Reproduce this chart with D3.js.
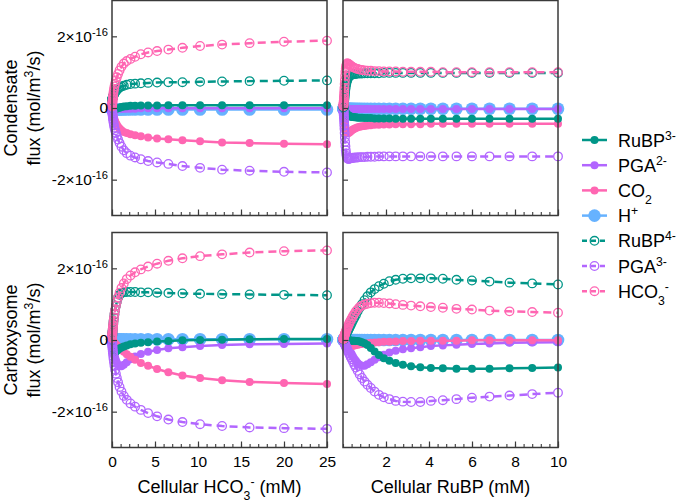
<!DOCTYPE html>
<html><head><meta charset="utf-8">
<script src="https://cdn.jsdelivr.net/npm/d3@7"></script>
<style>body{margin:0;background:#fff;} svg text{font-family:"Liberation Sans",Arial,sans-serif;fill:#000;}</style>
</head><body><svg id="c" width="677" height="502"></svg>
<script>
// ---------- DATA (flux in units of 1e-16 mol/m3/s) ----------
const xHCO3 = [0.0127,0.0158,0.0198,0.0248,0.031,0.0387,0.0484,0.0604,0.0756,0.0944,0.118,0.148,0.184,0.231,0.288,0.36,0.45,0.563,0.704,0.88,1.1,1.374,1.718,2.147,2.684,3.355,4.194,5.243,6.554,8.192,10.24,12.8,16,20,25];
const xRuBP = [0.0167,0.019,0.0216,0.0246,0.028,0.0318,0.0361,0.041,0.0466,0.053,0.0602,0.068,0.078,0.088,0.1,0.114,0.13,0.147,0.167,0.19,0.216,0.246,0.279,0.317,0.36,0.409,0.465,0.529,0.601,0.683,0.776,0.881,1.002,1.138,1.293,1.47,1.67,1.898,2.157,2.451,2.785,3.165,3.596,4.087,4.644,5.277,5.997,6.815,7.744,8.8,10];

// Condensate vs cellular HCO3-
const condL_RuBP3 = [-0.16,-0.16,-0.15,-0.15,-0.14,-0.14,-0.13,-0.12,-0.11,-0.1,-0.09,-0.08,-0.07,-0.06,-0.05,-0.04,-0.03,-0.01,0,0.01,0.03,0.04,0.05,0.06,0.06,0.07,0.07,0.07,0.08,0.08,0.08,0.08,0.08,0.08,0.08];
const condL_PGA2 = [-0.05,-0.05,-0.05,-0.05,-0.05,-0.05,-0.04,-0.04,-0.04,-0.04,-0.04,-0.03,-0.03,-0.03,-0.03,-0.03,-0.03,-0.02,-0.02,-0.02,-0.02,-0.02,-0.02,-0.02,-0.02,-0.01,-0.01,-0.01,-0.01,-0.01,-0.01,-0.01,-0.01,-0.01,-0.01];
const condL_CO2 = [-0.03,-0.03,-0.04,-0.05,-0.06,-0.07,-0.09,-0.1,-0.12,-0.15,-0.17,-0.2,-0.24,-0.28,-0.32,-0.37,-0.42,-0.47,-0.52,-0.57,-0.62,-0.67,-0.7,-0.73,-0.76,-0.79,-0.82,-0.85,-0.87,-0.9,-0.93,-0.96,-0.98,-1.0,-1.01];
const condL_H = [-0.04,-0.04,-0.04,-0.04,-0.04,-0.04,-0.04,-0.04,-0.04,-0.04,-0.04,-0.04,-0.04,-0.04,-0.04,-0.04,-0.04,-0.04,-0.04,-0.04,-0.04,-0.04,-0.04,-0.04,-0.04,-0.04,-0.04,-0.04,-0.04,-0.04,-0.04,-0.04,-0.04,-0.04,-0.04];
const condL_RuBP4 = [0.22,0.22,0.23,0.23,0.24,0.25,0.26,0.27,0.29,0.3,0.32,0.34,0.36,0.38,0.41,0.44,0.47,0.5,0.54,0.57,0.6,0.62,0.65,0.67,0.68,0.69,0.7,0.71,0.72,0.72,0.73,0.74,0.75,0.76,0.77];
const condL_PGA3 = [-0.04,-0.05,-0.06,-0.08,-0.1,-0.12,-0.14,-0.17,-0.21,-0.25,-0.3,-0.35,-0.41,-0.48,-0.55,-0.62,-0.7,-0.79,-0.88,-0.98,-1.08,-1.18,-1.26,-1.33,-1.38,-1.43,-1.48,-1.52,-1.56,-1.62,-1.67,-1.72,-1.75,-1.78,-1.8];
const condL_HCO3 = [0.05,0.06,0.07,0.09,0.11,0.13,0.16,0.19,0.23,0.27,0.32,0.38,0.45,0.52,0.6,0.68,0.77,0.86,0.95,1.05,1.15,1.24,1.31,1.37,1.43,1.5,1.55,1.59,1.63,1.68,1.73,1.77,1.81,1.85,1.88];

// Carboxysome vs cellular HCO3-
const carbL_RuBP3 = [-0.03,-0.04,-0.05,-0.06,-0.08,-0.1,-0.12,-0.15,-0.18,-0.21,-0.24,-0.27,-0.3,-0.32,-0.33,-0.33,-0.32,-0.3,-0.27,-0.24,-0.21,-0.18,-0.15,-0.12,-0.1,-0.08,-0.06,-0.04,-0.03,-0.01,0,0.01,0.02,0.03,0.03];
const carbL_PGA2 = [-0.02,-0.03,-0.03,-0.04,-0.05,-0.06,-0.08,-0.1,-0.12,-0.15,-0.19,-0.23,-0.28,-0.34,-0.41,-0.48,-0.56,-0.63,-0.69,-0.73,-0.73,-0.69,-0.62,-0.54,-0.46,-0.39,-0.33,-0.28,-0.23,-0.2,-0.17,-0.14,-0.12,-0.11,-0.1];
const carbL_CO2 = [-0.01,-0.01,-0.01,-0.01,-0.02,-0.02,-0.02,-0.03,-0.03,-0.04,-0.04,-0.05,-0.06,-0.07,-0.08,-0.1,-0.12,-0.15,-0.18,-0.22,-0.27,-0.33,-0.4,-0.47,-0.55,-0.64,-0.72,-0.81,-0.9,-0.99,-1.06,-1.12,-1.17,-1.2,-1.23];
const carbL_H = [0.02,0.02,0.02,0.02,0.02,0.02,0.02,0.02,0.02,0.02,0.02,0.02,0.02,0.02,0.02,0.02,0.02,0.02,0.02,0.02,0.02,0.02,0.02,0.02,0.02,0.02,0.02,0.02,0.02,0.02,0.02,0.02,0.02,0.02,0.02];
const carbL_RuBP4 = [0.1,0.11,0.12,0.13,0.15,0.17,0.2,0.23,0.27,0.32,0.38,0.45,0.53,0.62,0.72,0.83,0.95,1.07,1.18,1.26,1.31,1.33,1.34,1.34,1.34,1.33,1.33,1.32,1.31,1.3,1.29,1.28,1.27,1.26,1.25];
const carbL_PGA3 = [-0.05,-0.06,-0.08,-0.1,-0.12,-0.15,-0.18,-0.22,-0.27,-0.32,-0.38,-0.45,-0.53,-0.62,-0.72,-0.83,-0.94,-1.06,-1.18,-1.31,-1.44,-1.56,-1.67,-1.77,-1.86,-1.95,-2.04,-2.13,-2.22,-2.29,-2.35,-2.4,-2.44,-2.46,-2.48];
const carbL_HCO3 = [0.06,0.07,0.09,0.11,0.13,0.16,0.19,0.23,0.28,0.33,0.39,0.46,0.54,0.63,0.73,0.84,0.95,1.07,1.19,1.32,1.45,1.58,1.7,1.8,1.89,1.97,2.05,2.13,2.21,2.28,2.34,2.39,2.44,2.48,2.5];

// Condensate vs cellular RuBP
const condR_RuBP3 = [-0.01,-0.01,-0.01,-0.01,-0.02,-0.02,-0.02,-0.03,-0.03,-0.04,-0.05,-0.06,-0.07,-0.08,-0.1,-0.11,-0.13,-0.15,-0.16,-0.18,-0.19,-0.21,-0.22,-0.23,-0.24,-0.25,-0.25,-0.26,-0.26,-0.27,-0.27,-0.27,-0.28,-0.28,-0.28,-0.29,-0.29,-0.29,-0.29,-0.3,-0.3,-0.3,-0.3,-0.3,-0.3,-0.3,-0.3,-0.3,-0.3,-0.3,-0.3];
const condR_PGA2 = [-0.01,-0.01,-0.01,-0.02,-0.02,-0.02,-0.02,-0.03,-0.03,-0.03,-0.03,-0.03,-0.03,-0.03,-0.03,-0.03,-0.03,-0.03,-0.03,-0.03,-0.03,-0.03,-0.03,-0.03,-0.03,-0.03,-0.03,-0.03,-0.03,-0.03,-0.03,-0.03,-0.03,-0.03,-0.03,-0.03,-0.03,-0.03,-0.03,-0.03,-0.03,-0.03,-0.03,-0.03,-0.03,-0.03,-0.03,-0.03,-0.03,-0.03,-0.03];
const condR_CO2 = [-0.02,-0.03,-0.04,-0.05,-0.07,-0.09,-0.11,-0.14,-0.17,-0.21,-0.25,-0.3,-0.36,-0.42,-0.49,-0.55,-0.6,-0.64,-0.67,-0.69,-0.7,-0.7,-0.69,-0.67,-0.65,-0.62,-0.6,-0.58,-0.56,-0.54,-0.52,-0.51,-0.5,-0.49,-0.48,-0.47,-0.47,-0.46,-0.46,-0.45,-0.45,-0.45,-0.45,-0.44,-0.44,-0.44,-0.44,-0.44,-0.44,-0.44,-0.44];
const condR_H = [-0.02,-0.02,-0.02,-0.02,-0.02,-0.02,-0.02,-0.02,-0.02,-0.02,-0.02,-0.02,-0.02,-0.02,-0.02,-0.02,-0.02,-0.02,-0.02,-0.02,-0.02,-0.02,-0.02,-0.02,-0.02,-0.02,-0.02,-0.02,-0.02,-0.02,-0.02,-0.02,-0.02,-0.02,-0.02,-0.02,-0.02,-0.02,-0.02,-0.02,-0.02,-0.02,-0.02,-0.02,-0.02,-0.02,-0.02,-0.02,-0.02,-0.02,-0.02];
const condR_RuBP4 = [0.02,0.03,0.04,0.05,0.06,0.08,0.1,0.12,0.15,0.18,0.22,0.27,0.33,0.39,0.46,0.53,0.6,0.66,0.72,0.77,0.81,0.85,0.88,0.9,0.92,0.93,0.94,0.95,0.95,0.96,0.96,0.96,0.97,0.97,0.97,0.97,0.97,0.98,0.98,0.98,0.98,0.98,0.98,0.98,0.98,0.98,0.98,0.98,0.98,0.98,0.98];
const condR_PGA3 = [-0.05,-0.06,-0.08,-0.1,-0.13,-0.16,-0.2,-0.25,-0.31,-0.39,-0.48,-0.58,-0.7,-0.82,-0.95,-1.07,-1.18,-1.27,-1.34,-1.38,-1.41,-1.42,-1.42,-1.41,-1.4,-1.4,-1.39,-1.39,-1.38,-1.38,-1.37,-1.37,-1.37,-1.36,-1.36,-1.36,-1.35,-1.35,-1.35,-1.35,-1.35,-1.35,-1.35,-1.35,-1.35,-1.35,-1.35,-1.35,-1.35,-1.35,-1.35];
const condR_HCO3 = [0.05,0.07,0.09,0.11,0.14,0.17,0.21,0.26,0.32,0.39,0.47,0.56,0.67,0.78,0.9,1.01,1.1,1.17,1.21,1.24,1.24,1.23,1.22,1.2,1.18,1.16,1.14,1.12,1.1,1.09,1.07,1.06,1.05,1.04,1.04,1.03,1.03,1.02,1.02,1.02,1.01,1.01,1.01,1.01,1.0,1.0,1.0,1.0,1.0,1.0,1.0];

// Carboxysome vs cellular RuBP
const carbR_RuBP3 = [0,0,0,0,0,0,0,0,0,0,0,0,0,0,0,0,-0.01,-0.01,-0.01,-0.01,-0.01,-0.01,-0.01,-0.01,-0.02,-0.02,-0.02,-0.02,-0.03,-0.03,-0.04,-0.06,-0.09,-0.14,-0.22,-0.32,-0.42,-0.51,-0.58,-0.64,-0.69,-0.73,-0.76,-0.78,-0.79,-0.8,-0.8,-0.8,-0.79,-0.78,-0.77];
const carbR_PGA2 = [-0.01,-0.01,-0.01,-0.02,-0.02,-0.02,-0.03,-0.03,-0.03,-0.04,-0.04,-0.05,-0.06,-0.07,-0.08,-0.09,-0.11,-0.13,-0.15,-0.17,-0.2,-0.23,-0.27,-0.31,-0.35,-0.4,-0.46,-0.52,-0.58,-0.64,-0.69,-0.72,-0.72,-0.68,-0.62,-0.55,-0.48,-0.41,-0.35,-0.3,-0.26,-0.23,-0.2,-0.17,-0.15,-0.13,-0.11,-0.1,-0.08,-0.07,-0.06];
const carbR_CO2 = [-0.01,-0.01,-0.01,-0.01,-0.01,-0.02,-0.02,-0.02,-0.02,-0.03,-0.03,-0.03,-0.04,-0.05,-0.06,-0.07,-0.08,-0.1,-0.11,-0.13,-0.14,-0.15,-0.16,-0.17,-0.17,-0.17,-0.16,-0.15,-0.14,-0.13,-0.12,-0.11,-0.1,-0.09,-0.08,-0.07,-0.06,-0.05,-0.05,-0.04,-0.03,-0.03,-0.02,-0.02,-0.02,-0.02,-0.01,-0.01,-0.01,-0.01,-0.01];
const carbR_H = [0,0,0,0,0,0,0,0,0,0,0,0,0,0,0,0,0,0,0,0,0,0,0,0,0,0,0,0,0,0,0,0,0,0,0,0,0,0,0,0,0,0,0,0,0,0,0,0,0,0,0];
const carbR_RuBP4 = [0.02,0.02,0.02,0.03,0.03,0.03,0.04,0.04,0.05,0.06,0.07,0.08,0.09,0.1,0.11,0.13,0.15,0.17,0.19,0.22,0.25,0.28,0.32,0.37,0.42,0.48,0.55,0.62,0.7,0.8,0.9,1.0,1.11,1.22,1.33,1.42,1.5,1.57,1.64,1.68,1.71,1.72,1.72,1.72,1.71,1.68,1.66,1.63,1.6,1.58,1.55];
const carbR_PGA3 = [-0.02,-0.02,-0.03,-0.03,-0.04,-0.04,-0.05,-0.05,-0.06,-0.07,-0.08,-0.09,-0.1,-0.12,-0.13,-0.15,-0.17,-0.2,-0.22,-0.25,-0.29,-0.33,-0.37,-0.42,-0.48,-0.54,-0.61,-0.69,-0.77,-0.86,-0.96,-1.06,-1.16,-1.25,-1.34,-1.44,-1.53,-1.6,-1.65,-1.7,-1.72,-1.73,-1.73,-1.7,-1.68,-1.65,-1.61,-1.58,-1.55,-1.51,-1.47];
const carbR_HCO3 = [0.03,0.03,0.04,0.04,0.05,0.06,0.07,0.08,0.09,0.1,0.11,0.12,0.14,0.16,0.18,0.2,0.23,0.26,0.29,0.32,0.36,0.4,0.45,0.5,0.55,0.61,0.67,0.73,0.8,0.86,0.92,0.96,0.99,1.01,1.03,1.04,1.04,1.03,1.02,1.0,0.98,0.96,0.94,0.92,0.9,0.87,0.85,0.82,0.8,0.78,0.76];

const yTickValues = [-2, 0, 2];
const xTicksHCO3 = [0, 5, 10, 15, 20, 25];
const xTicksRuBP = [2, 4, 6, 8, 10];

// ---------- STYLE ----------
const TEAL = "#009688", PURPLE = "#B266FF", PINK = "#FF66B2", BLUE = "#66B2FF";
const FONT = '"Liberation Sans", Arial, sans-serif';
const AXC = "#3a3a3a";

const seriesDefs = {
  H:     {color: BLUE,   dashed: false, r: 6.3, label: [["H",""],["+","sup"]]},
  RuBP3: {color: TEAL,   dashed: false, r: 4,   label: [["RuBP",""],["3-","sup"]]},
  PGA2:  {color: PURPLE, dashed: false, r: 4,   label: [["PGA",""],["2-","sup"]]},
  CO2:   {color: PINK,   dashed: false, r: 4,   label: [["CO",""],["2","sub"]]},
  RuBP4: {color: TEAL,   dashed: true,  r: 4.3, label: [["RuBP",""],["4-","sup"]]},
  PGA3:  {color: PURPLE, dashed: true,  r: 4.3, label: [["PGA",""],["3-","sup"]]},
  HCO3:  {color: PINK,   dashed: true,  r: 4.3, label: [["HCO",""],["3","sub"],["-","sup"]]}
};
const drawOrder = ["H","PGA2","CO2","RuBP3","PGA3","RuBP4","HCO3"];
const legendOrder = ["RuBP3","PGA2","CO2","H","RuBP4","PGA3","HCO3"];

const panels = [
  {xr:[112,327], yr:[215.5,0.5], xdom:[0,25], xv:xHCO3, xt:xTicksHCO3, minorStep:1, xlab:false, ylab:true,
   d:{RuBP3:condL_RuBP3,PGA2:condL_PGA2,CO2:condL_CO2,H:condL_H,RuBP4:condL_RuBP4,PGA3:condL_PGA3,HCO3:condL_HCO3}},
  {xr:[343,558], yr:[215.5,0.5], xdom:[0,10], xv:xRuBP, xt:xTicksRuBP, minorStep:0.4, xlab:false, ylab:false,
   d:{RuBP3:condR_RuBP3,PGA2:condR_PGA2,CO2:condR_CO2,H:condR_H,RuBP4:condR_RuBP4,PGA3:condR_PGA3,HCO3:condR_HCO3}},
  {xr:[112,327], yr:[447.5,232.5], xdom:[0,25], xv:xHCO3, xt:xTicksHCO3, minorStep:1, xlab:true, ylab:true,
   d:{RuBP3:carbL_RuBP3,PGA2:carbL_PGA2,CO2:carbL_CO2,H:carbL_H,RuBP4:carbL_RuBP4,PGA3:carbL_PGA3,HCO3:carbL_HCO3}},
  {xr:[343,558], yr:[447.5,232.5], xdom:[0,10], xv:xRuBP, xt:xTicksRuBP, minorStep:0.4, xlab:true, ylab:false,
   d:{RuBP3:carbR_RuBP3,PGA2:carbR_PGA2,CO2:carbR_CO2,H:carbR_H,RuBP4:carbR_RuBP4,PGA3:carbR_PGA3,HCO3:carbR_HCO3}}
];

const svg = d3.select("#c");

function addRich(textSel, parts, baseSize, ratio) {
  const rr = ratio || 0.68;
  parts.forEach(([t, kind]) => {
    const ts = textSel.append("tspan").text(t);
    if (kind === "sup") ts.attr("font-size", baseSize*rr).attr("baseline-shift", "super");
    else if (kind === "sub") ts.attr("font-size", baseSize*rr).attr("baseline-shift", "sub");
  });
}

panels.forEach(p => {
  const xs = d3.scaleLinear().domain(p.xdom).range(p.xr);
  const ys = d3.scaleLinear().domain([-3, 3]).range(p.yr);
  const g = svg.append("g");

  drawOrder.forEach(k => {
    const s = seriesDefs[k];
    const vals = p.d[k];
    const line = d3.line().x((v,i) => xs(p.xv[i])).y(v => ys(v));
    g.append("path").datum(vals)
      .attr("d", line).attr("fill", "none").attr("stroke", s.color)
      .attr("stroke-width", 2.5)
      .attr("stroke-dasharray", s.dashed ? "8,5" : null);
    g.append("g").selectAll("circle").data(vals).join("circle")
      .attr("cx", (v,i) => xs(p.xv[i])).attr("cy", v => ys(v)).attr("r", s.r)
      .attr("fill", s.dashed ? "none" : s.color)
      .attr("stroke", s.dashed ? s.color : "none")
      .attr("stroke-width", s.dashed ? 1.3 : 0);
  });

  g.append("rect").attr("x", p.xr[0]).attr("y", p.yr[1])
    .attr("width", p.xr[1]-p.xr[0]).attr("height", p.yr[0]-p.yr[1])
    .attr("fill", "none").attr("stroke", AXC).attr("stroke-width", 1.5);

  const minor = d3.range(p.xdom[0], p.xdom[1] + 1e-9, p.minorStep);
  const gx1 = g.append("g").attr("transform", `translate(0,${p.yr[0]})`)
    .call(d3.axisBottom(xs).tickValues(minor).tickSize(-3.5).tickFormat(""));
  gx1.select(".domain").remove();
  gx1.selectAll("line").attr("stroke", AXC).attr("stroke-width", 1.1);

  const gx = g.append("g").attr("transform", `translate(0,${p.yr[0]})`)
    .call(d3.axisBottom(xs).tickValues(p.xt).tickSize(-6).tickPadding(8)
      .tickFormat(p.xlab ? d3.format("d") : ""));
  gx.select(".domain").remove();
  gx.selectAll("line").attr("stroke", AXC).attr("stroke-width", 1.2);
  gx.selectAll("text").attr("font-size", 15.5).attr("font-family", FONT).attr("fill", "#000");

  const gy = g.append("g").attr("transform", `translate(${p.xr[0]},0)`)
    .call(d3.axisLeft(ys).tickValues(yTickValues).tickSize(-5).tickPadding(4).tickFormat(""));
  gy.select(".domain").remove();
  gy.selectAll("line").attr("stroke", AXC).attr("stroke-width", 1.2);
  if (p.ylab) {
    gy.selectAll(".tick").each(function(d) {
      const t = d3.select(this).select("text")
        .attr("font-size", 15.5).attr("font-family", FONT).attr("fill", "#000");
      if (d === 0) { t.text("0"); }
      else {
        t.text(null);
        addRich(t, [[(d < 0 ? "-" : "") + Math.abs(d) + "\u00d710", ""], ["-16", "sup"]], 15.5, 0.72);
      }
    });
  }
});

function yTitle(cy, line1) {
  svg.append("text").attr("transform", `translate(17,${cy}) rotate(-90)`)
    .attr("text-anchor", "middle").attr("font-size", 18).text(line1);
  const t2 = svg.append("text").attr("transform", `translate(40,${cy}) rotate(-90)`)
    .attr("text-anchor", "middle").attr("font-size", 18);
  addRich(t2, [["flux (mol/m", ""], ["3", "sup"], ["/s)", ""]], 18);
}
yTitle(108, "Condensate");
yTitle(340, "Carboxysome");

const xt1 = svg.append("text").attr("x", 219.5).attr("y", 493).attr("text-anchor", "middle").attr("font-size", 18);
addRich(xt1, [["Cellular HCO", ""], ["3", "sub"], ["-", "sup"], [" (mM)", ""]], 18);
svg.append("text").attr("x", 450.5).attr("y", 493).attr("text-anchor", "middle").attr("font-size", 18)
  .text("Cellular RuBP (mM)");

const lg = svg.append("g");
legendOrder.forEach((k, i) => {
  const s = seriesDefs[k];
  const y = 140 + i * 25.2;
  lg.append("line").attr("x1", 582).attr("x2", 607).attr("y1", y).attr("y2", y)
    .attr("stroke", s.color).attr("stroke-width", 2.5)
    .attr("stroke-dasharray", s.dashed ? "5,4" : null);
  lg.append("circle").attr("cx", 594.5).attr("cy", y).attr("r", s.r)
    .attr("fill", s.dashed ? "none" : s.color)
    .attr("stroke", s.dashed ? s.color : "none").attr("stroke-width", s.dashed ? 1.3 : 0);
  const t = lg.append("text").attr("x", 618).attr("y", y + 6.5).attr("font-size", 18);
  addRich(t, s.label, 18);
});
</script>
</body></html>
